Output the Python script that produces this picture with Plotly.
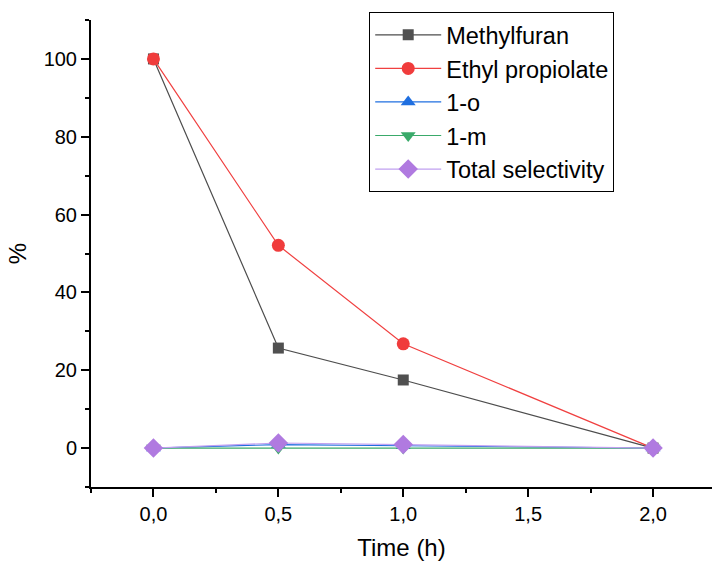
import plotly.graph_objects as go

time_h = [0.0, 0.5, 1.0, 2.0]
methylfuran = [100.0, 25.7, 17.5, 0.0]
ethyl_propiolate = [100.0, 52.1, 26.8, 0.0]
one_o = [0.0, 0.9, 0.6, 0.0]
one_m = [0.0, 0.0, 0.0, 0.0]
total_selectivity = [0.0, 1.3, 0.9, 0.0]

series = [
    ("Methylfuran", methylfuran, "#4d4d4d", "#505050", "square", 11),
    ("Ethyl propiolate", ethyl_propiolate, "#f04040", "#f03c3c", "circle", 13),
    ("1-o", one_o, "#1f6fe0", "#1f6fe0", "triangle-up", 13),
    ("1-m", one_m, "#3aaa6a", "#3aaa6a", "triangle-down", 13),
    ("Total selectivity", total_selectivity, "#c0a0f0", "#b07ae0", "diamond", 15),
]

fig = go.Figure()
for i, (name, vals, lc, mc, sym, sz) in enumerate(series):
    fig.add_trace(go.Scatter(
        x=time_h, y=vals, name=name, mode="lines+markers",
        line=dict(color=lc, width=1.2),
        marker=dict(symbol=sym, size=sz, color=mc, line=dict(width=0)),
    ))

font_family = "Arial, Liberation Sans, sans-serif"
axis_common = dict(
    showline=True, linecolor="black", linewidth=2, mirror=False,
    ticks="outside", ticklen=8, tickwidth=2, tickcolor="black",
    showgrid=False, zeroline=False,
    tickfont=dict(family=font_family, size=20, color="black"),
)
fig.update_xaxes(
    range=[-0.25, 2.236], tickvals=[0, 0.5, 1.0, 1.5, 2.0], tickformat=".1f",
    minor=dict(dtick=0.25, tick0=0, ticks="outside", ticklen=4, tickwidth=2, tickcolor="black"),
    title=dict(text="Time (h)", font=dict(family=font_family, size=24, color="black"), standoff=15),
    **axis_common,
)
fig.update_yaxes(
    range=[-10, 110], tickvals=[0, 20, 40, 60, 80, 100],
    minor=dict(dtick=10, tick0=0, ticks="outside", ticklen=4, tickwidth=2, tickcolor="black"),
    title=dict(text="%", font=dict(family=font_family, size=24, color="black"), standoff=10),
    **axis_common,
)
fig.update_layout(
    width=712, height=565,
    margin=dict(l=91, r=0, t=20, b=78),
    paper_bgcolor="white", plot_bgcolor="white",
    separators=",.",
    font=dict(family=font_family, color="black"),
    legend=dict(
        x=0.448, y=1.017, xanchor="left", yanchor="top",
        bordercolor="black", borderwidth=1, bgcolor="white",
        font=dict(family=font_family, size=23.5, color="black"),
        traceorder="normal", itemwidth=66,
    ),
    showlegend=True,
)
fig.write_html("out.html")
